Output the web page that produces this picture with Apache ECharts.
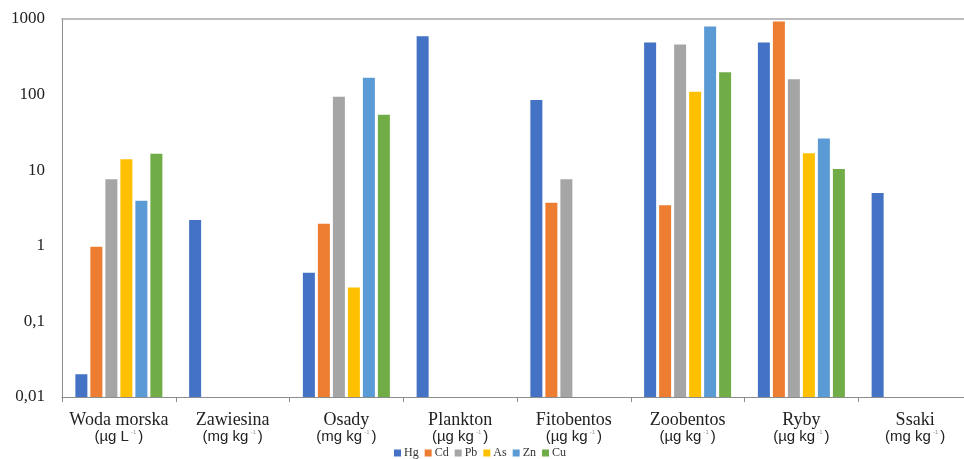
<!DOCTYPE html>
<html>
<head>
<meta charset="utf-8">
<script src="https://cdn.jsdelivr.net/npm/echarts@6/dist/echarts.min.js"></script>
<style>
  html, body { margin: 0; padding: 0; background: #fff; }
  #chart { width: 964px; height: 459px; }
</style>
</head>
<body>
<div id="chart"></div>
<script>
// Sample groups and their measurement units
const categories = ['Woda morska', 'Zawiesina', 'Osady', 'Plankton', 'Fitobentos', 'Zoobentos', 'Ryby', 'Ssaki'];
const units = ['(µg L', '(mg kg', '(mg kg', '(µg kg', '(µg kg', '(µg kg', '(µg kg', '(mg kg'];

// Metal concentrations per group (null = not determined)
const metals = ['Hg', 'Cd', 'Pb', 'As', 'Zn', 'Cu'];
const hg = [0.02, 2.2, 0.44, 590, 85, 490, 490, 5];
const cd = [0.97, null, 1.95, null, 3.7, 3.45, 930, null];
const pb = [7.6, null, 94, null, 7.6, 460, 160, null];
const as = [14, null, 0.28, null, null, 109, 16.8, null];
const zn = [3.95, null, 167, null, null, 795, 26.3, null];
const cu = [16.5, null, 54, null, null, 198, 10.4, null];

// Y axis range and tick labels (decimal comma)
const yMin = 0.01;
const yMax = 1000;
const yTicks = { 0.01: '0,01', 0.1: '0,1', 1: '1', 10: '10', 100: '100', 1000: '1000' };

const colors = ['#4472C4', '#ED7D31', '#A5A5A5', '#FFC000', '#5B9BD5', '#70AD47'];
const seriesValues = [hg, cd, pb, as, zn, cu];

const BAR_W = 12;
const BAR_PITCH = 15;

// Bars rise from the bottom of the log axis, so they are drawn as custom rects
function barRenderer(k) {
  return function (params, api) {
    const idx = api.value(0);
    const v = api.value(1);
    const top = api.coord([idx, v]);
    const base = api.coord([idx, yMin]);
    const x = top[0] + (k - (metals.length - 1) / 2) * BAR_PITCH - BAR_W / 2;
    return {
      type: 'rect',
      shape: { x: x, y: top[1], width: BAR_W, height: base[1] - top[1] },
      style: api.style()
    };
  };
}

const chart = echarts.init(document.getElementById('chart'));
chart.setOption({
  animation: false,
  color: colors,
  // plot area runs a little past the right edge of the canvas
  grid: { left: 62, width: 910, top: 19, bottom: 62, containLabel: false, outerBoundsMode: 'none' },
  legend: {
    data: metals,
    left: 394,
    top: 447,
    icon: 'rect',
    itemWidth: 7,
    itemHeight: 7,
    itemGap: 6,
    padding: 0,
    textStyle: { fontFamily: 'Liberation Serif', fontSize: 12, color: '#333', padding: [0, 0, 0, -2] }
  },
  xAxis: [{
    type: 'category',
    data: categories,
    axisLine: { lineStyle: { color: '#8c8c8c', width: 1 } },
    axisTick: { show: true, length: 5, lineStyle: { color: '#8c8c8c' } },
    axisLabel: {
      interval: 0,
      margin: 15,
      formatter: function (v, i) {
        return '{n|' + v + '}\n{u|' + units[i] + '}{s|-1}{u|)}';
      },
      rich: {
        n: { fontFamily: 'Liberation Serif', fontSize: 18, color: '#222', lineHeight: 17 },
        u: { fontFamily: 'Liberation Sans', fontSize: 15, color: '#222', lineHeight: 16 },
        s: { fontFamily: 'Liberation Sans', fontSize: 6, color: '#999', lineHeight: 6, verticalAlign: 'top', padding: [0, 2, 0, 2] }
      }
    }
  }, {
    type: 'category',
    data: categories,
    position: 'top',
    axisLine: { lineStyle: { color: '#a6a6a6', width: 1.5 } },
    axisTick: { show: false },
    axisLabel: { show: false }
  }],
  yAxis: {
    type: 'log',
    logBase: 10,
    min: yMin,
    max: yMax,
    axisLine: { show: true, lineStyle: { color: '#8c8c8c' } },
    axisTick: { show: false },
    splitLine: { show: false },
    axisLabel: {
      margin: 17,
      fontFamily: 'Liberation Serif',
      fontSize: 17,
      color: '#222',
      formatter: function (v) {
        const key = Number(v.toPrecision(3));
        return yTicks[key] !== undefined ? yTicks[key] : '';
      }
    }
  },
  series: metals.map(function (name, k) {
    const data = [];
    seriesValues[k].forEach(function (v, i) {
      if (v !== null) data.push([i, v]);
    });
    return {
      name: name,
      type: 'custom',
      xAxisIndex: 0,
      encode: { x: 0, y: 1 },
      data: data,
      itemStyle: { color: colors[k] },
      renderItem: barRenderer(k)
    };
  })
});
</script>
</body>
</html>
